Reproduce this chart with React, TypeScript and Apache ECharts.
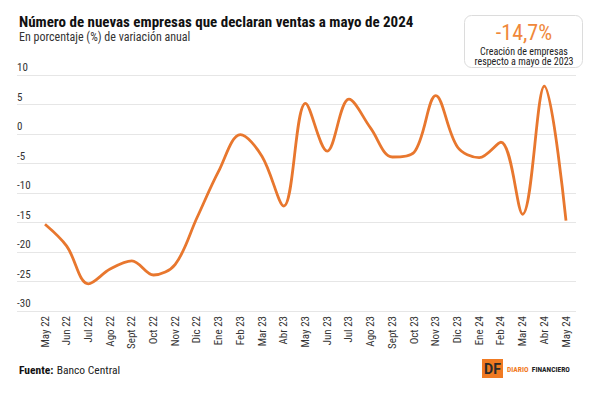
import React, { useEffect, useRef } from "react";
import * as echarts from "echarts";

const categories = [
  "May 22", "Jun 22", "Jul 22", "Ago 22", "Sept 22", "Oct 22", "Nov 22", "Dic 22",
  "Ene 23", "Feb 23", "Mar 23", "Abr 23", "May 23", "Jun 23", "Jul 23", "Ago 23",
  "Sept 23", "Oct 23", "Nov 23", "Dic 23", "Ene 24", "Feb 24", "Mar 24", "Abr 24", "May 24",
];

const variacion = [
  -15.3, -19.0, -25.4, -22.9, -21.5, -23.9, -22.1, -14.2,
  -6.3, -0.1, -3.8, -12.2, 5.2, -2.9, 5.9, 1.0,
  -3.9, -3.1, 6.5, -2.2, -4.0, -1.4, -13.6, 8.1, -14.7,
];

const yMin = -30;
const yMax = 10;
const yStep = 5;

const title = "Número de nuevas empresas que declaran ventas a mayo de 2024";
const subtitle = "En porcentaje (%) de variación anual";
const highlight = "-14,7%";
const highlightLines = ["Creación de empresas", "respecto a mayo de 2023"];

const FONT = "'Roboto Condensed', 'Liberation Sans Narrow', 'DejaVu Sans Condensed', Roboto, sans-serif";
const ORANGE = "#E8772E";

export default function App() {
  const ref = useRef<HTMLDivElement>(null);

  useEffect(() => {
    if (!ref.current) return;
    const chart = echarts.init(ref.current, null, { renderer: "svg", width: 600, height: 394 });
    chart.setOption({
      animation: false,
      backgroundColor: "#ffffff",
      textStyle: { fontFamily: FONT },
      grid: [
        { left: 17, right: 24, top: 75, bottom: 83 },
        { left: 45, right: 34, top: 75, bottom: 83 },
      ],
      xAxis: [
        { type: "value", gridIndex: 0, min: 0, max: 1, show: false },
        {
          type: "category",
          gridIndex: 1,
          data: categories,
          boundaryGap: false,
          axisLine: { show: false },
          axisTick: { show: false },
          axisLabel: {
            rotate: 90,
            margin: 5,
            fontSize: 11,
            color: "#333",
            fontFamily: FONT,
            interval: 0,
          },
        },
      ],
      yAxis: [
        {
          type: "value",
          gridIndex: 0,
          min: yMin,
          max: yMax,
          interval: yStep,
          axisLine: { show: false },
          axisTick: { show: false },
          splitLine: { lineStyle: { color: "#e6e6e6", width: 1 } },
          axisLabel: {
            inside: true,
            margin: 0,
            align: "left",
            verticalAlign: "bottom",
            padding: [0, 0, 2, 0],
            fontSize: 11,
            color: "#333",
            fontFamily: FONT,
          },
        },
        { type: "value", gridIndex: 1, min: yMin, max: yMax, show: false },
      ],
      series: [
        {
          type: "line",
          xAxisIndex: 1,
          yAxisIndex: 1,
          data: variacion,
          smooth: 0.35,
          symbol: "none",
          lineStyle: { color: ORANGE, width: 2.8 },
        },
      ],
      graphic: [
        {
          type: "text",
          left: 19,
          top: 14,
          style: { text: title, fontSize: 15, fontWeight: "bold", fill: "#111", fontFamily: FONT },
        },
        {
          type: "text",
          left: 19,
          top: 31,
          style: { text: subtitle, fontSize: 12, fill: "#333", fontFamily: FONT },
        },
        {
          type: "rect",
          shape: { x: 464.5, y: 15.5, width: 118, height: 52, r: 7 },
          style: { fill: "#fff", stroke: "#dcdcdc", lineWidth: 1 },
        },
        {
          type: "text",
          x: 524,
          y: 32,
          style: {
            text: highlight,
            fontSize: 22,
            lineHeight: 20,
            fill: "#F0883A",
            fontFamily: FONT,
            align: "center",
            verticalAlign: "middle",
          },
        },
        {
          type: "text",
          x: 524,
          y: 51.5,
          style: {
            text: highlightLines[0],
            fontSize: 10,
            lineHeight: 10,
            fill: "#222",
            fontFamily: FONT,
            align: "center",
            verticalAlign: "middle",
          },
        },
        {
          type: "text",
          x: 524,
          y: 61.5,
          style: {
            text: highlightLines[1],
            fontSize: 10,
            lineHeight: 10,
            fill: "#222",
            fontFamily: FONT,
            align: "center",
            verticalAlign: "middle",
          },
        },
        {
          type: "text",
          left: 19,
          top: 364,
          style: {
            rich: {
              b: { fontWeight: "bold", fontSize: 11.5, fill: "#111", fontFamily: FONT },
              n: { fontSize: 11.5, fill: "#222", fontFamily: FONT },
            },
            text: "{b|Fuente:} {n|Banco Central}",
          },
        },
        {
          type: "rect",
          shape: { x: 482, y: 359, width: 21, height: 19 },
          style: { fill: "#F07A22" },
        },
        {
          type: "text",
          x: 492.5,
          y: 369,
          style: {
            text: "DF",
            fontSize: 14,
            fontWeight: "bold",
            fill: "#2a2a2a",
            fontFamily: "Roboto, sans-serif",
            align: "center",
            verticalAlign: "middle",
          },
        },
        {
          type: "text",
          x: 507,
          y: 369,
          style: {
            rich: {
              o: { fontSize: 7.5, fontWeight: "bold", fill: "#F07A22", fontFamily: FONT },
              d: { fontSize: 7.5, fontWeight: "bold", fill: "#222", fontFamily: FONT },
            },
            text: "{o|DIARIO} {d|FINANCIERO}",
            verticalAlign: "middle",
          },
        },
      ],
    });
    return () => chart.dispose();
  }, []);

  return <div ref={ref} style={{ width: 600, height: 394, position: "absolute", left: 0, top: 0 }} />;
}
